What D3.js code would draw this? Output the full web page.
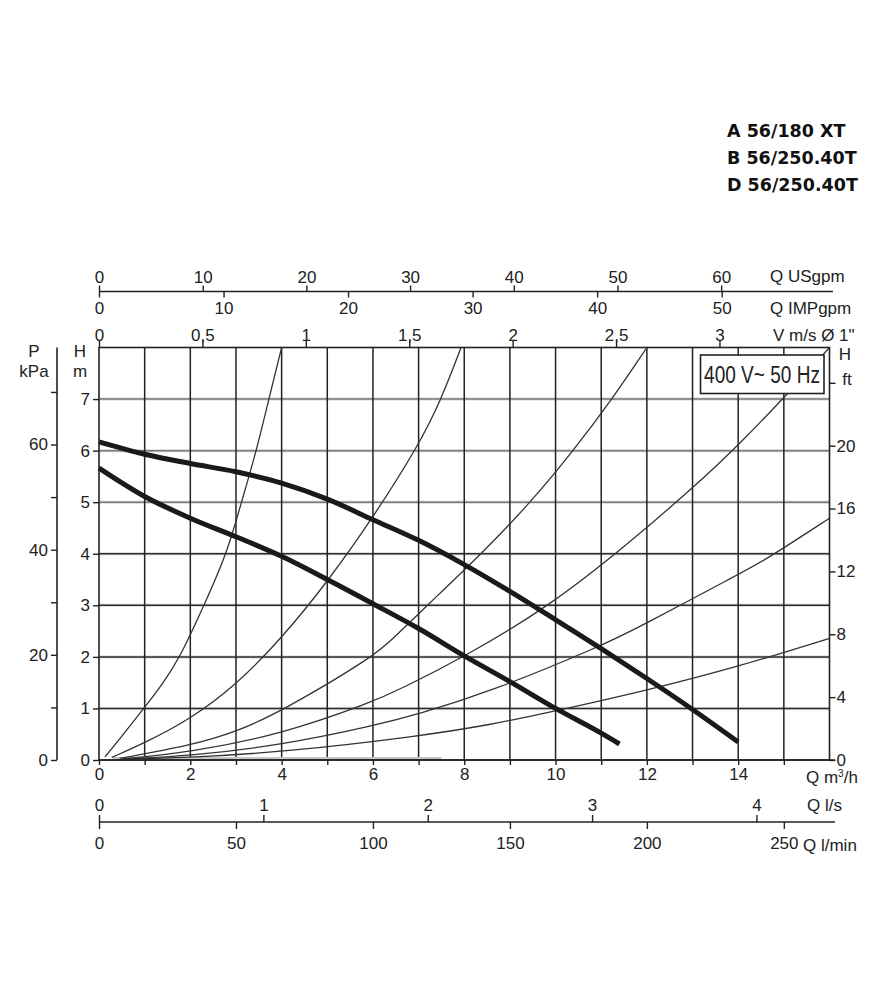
<!DOCTYPE html>
<html>
<head>
<meta charset="utf-8">
<script src="https://cdn.jsdelivr.net/npm/d3@7"></script>
<style>
body { margin: 0; background: #fff; }
</style>
</head>
<body>
<div id="chart"></div>
<script>
var models = ["A 56/180 XT", "B 56/250.40T", "D 56/250.40T"];
var supplyLabel = "400 V~ 50 Hz";

// tick values of every scale
var qTicks = [0,1,2,3,4,5,6,7,8,9,10,11,12,13,14,15,16];
var qLabels = [0,2,4,6,8,10,12,14];
var hTicks = [0,1,2,3,4,5,6,7];
var gridH = [1,2,3,4,5,6,7];
var grayGridH = [5,6,7];
var kpaTicks = [0,10,20,30,40,50,60,70];
var kpaLabels = [0,20,40,60];
var ftTicks = [0,4,8,12,16,20,24];
var ftLabels = [0,4,8,12,16,20];
var usTicks = [0,10,20,30,40,50,60];
var impTicks = [0,10,20,30,40,50];
var velTicks = [0,0.5,1,1.5,2,2.5,3];
var velLabels = ["0","0,5","1","1,5","2","2,5","3"];
var lsTicks = [0,1,2,3,4];
var lminTicks = [0,50,100,150,200,250];

// pump curves (Q m3/h , H m)
var pumpUpperQ = [0,1,2,3,4,5,6,7,8,9,10,11,12,13,14];
var pumpUpperH = [6.17,5.93,5.75,5.59,5.37,5.06,4.66,4.26,3.79,3.27,2.72,2.16,1.58,0.98,0.35];
var pumpLowerQ = [0,1,2,3,4,5,6,7,8,9,10,11,11.4];
var pumpLowerH = [5.66,5.11,4.69,4.33,3.95,3.5,3.03,2.55,2.02,1.52,1.0,0.52,0.31];

// system curves (thin lines)
var sys1Q = [0.13,0.5,0.98,1.4,1.78,2.3,2.8,3.12,3.45,3.72,4.0];
var sys1H = [0.06,0.46,1.0,1.48,2.0,3.0,4.0,5.0,6.0,7.0,8.0];
var sys2Q = [0.28,1,2,3,4,5,6,7,7.5,7.93];
var sys2H = [0.05,0.33,0.79,1.45,2.36,3.45,4.7,6.1,7.0,8.0];
var sys3Q = [0.45,2,3,4.05,6,6.41,7.19,8.38,9.46,10.39,11.24,12];
var sys3H = [0.03,0.28,0.54,0.97,2.0,2.33,3.0,4.0,5.0,6.0,7.0,8.0];
var sys4Q = [0.5,2,4,6,6.59,8,9.9,11.6,13,14,15.06,16];
var sys4H = [0.02,0.15,0.5,1.13,1.37,2.0,3.0,4.2,5.27,6.1,7.08,8.0];
var sys5Q = [0.55,2,4,6,7,8.56,11,11.84,14,14.6,16];
var sys5H = [0.02,0.08,0.29,0.66,0.89,1.32,2.21,2.58,3.6,3.88,4.69];
var sys6Q = [0.6,2,4,7,8.56,10,12,14,16];
var sys6H = [0.02,0.05,0.15,0.46,0.68,0.95,1.35,1.81,2.36];
var flatQ = [0.3,7.5];
var flatH = [0.03,0.03];

var font = "'Liberation Sans', Arial, sans-serif";
var ink = "#222";

var x0 = 99, x1 = 829.5, yb = 760, yt = 347.5;
var x = d3.scaleLinear().domain([0,16]).range([x0,x1]);
var y = d3.scaleLinear().domain([0,8]).range([yb,yt]);
var yKpa = d3.scaleLinear().domain([0,8*9.80665]).range([yb,yt]);
var yFt = d3.scaleLinear().domain([0,8/0.3048]).range([yb,yt]);
var xUs = d3.scaleLinear().domain([0,16/0.227125]).range([x0,x1]);
var xImp = d3.scaleLinear().domain([0,16/0.272765]).range([x0,x1]);
var xVel = d3.scaleLinear().domain([0,16/4.53]).range([x0,x1]);
var xLs = d3.scaleLinear().domain([0,16/3.6]).range([x0,x1]);
var xLmin = d3.scaleLinear().domain([0,16/0.06]).range([x0,x1]);

var svg = d3.select("#chart").append("svg")
    .attr("width", 885)
    .attr("height", 1000);

svg.append("rect").attr("width", 885).attr("height", 1000).attr("fill", "#fff");

// model names top right
svg.selectAll(".model")
    .data(models)
    .enter().append("text")
    .attr("class", "model")
    .attr("x", 727)
    .attr("y", function (d, i) { return 137 + i*27; })
    .attr("font-family", "'DejaVu Sans', sans-serif")
    .attr("font-weight", "bold")
    .attr("font-size", 17.5)
    .attr("fill", "#111")
    .text(function (d) { return d; });

// grid
svg.selectAll(".hhalo")
    .data(gridH)
    .enter().append("line")
    .attr("x1", x0).attr("x2", x1)
    .attr("y1", function (d) { return y(d); })
    .attr("y2", function (d) { return y(d); })
    .attr("stroke", "#e2e2e2")
    .attr("stroke-width", 3.5);
svg.selectAll(".hgrid")
    .data(gridH)
    .enter().append("line")
    .attr("x1", x0).attr("x2", x1)
    .attr("y1", function (d) { return y(d); })
    .attr("y2", function (d) { return y(d); })
    .attr("stroke", function (d) { return grayGridH.indexOf(d) >= 0 ? "#777" : "#2a2a2a"; })
    .attr("stroke-width", 1.5);
svg.selectAll(".vgrid")
    .data(qTicks.slice(1, qTicks.length - 1))
    .enter().append("line")
    .attr("x1", function (d) { return x(d); })
    .attr("x2", function (d) { return x(d); })
    .attr("y1", yb).attr("y2", yt)
    .attr("stroke", ink)
    .attr("stroke-width", 1.5);

// curves
var line = d3.line()
    .x(function (d) { return x(d[0]); })
    .y(function (d) { return y(d[1]); })
    .curve(d3.curveMonotoneX);
var smooth = d3.line()
    .x(function (d) { return x(d[0]); })
    .y(function (d) { return y(d[1]); })
    .curve(d3.curveBasis);

function pts(qs, hs) {
    return qs.map(function (q, i) { return [q, hs[i]]; });
}

svg.append("path")
    .datum(pts(flatQ, flatH))
    .attr("d", line)
    .attr("fill", "none")
    .attr("stroke", "#c4c4c4")
    .attr("stroke-width", 3);

var sysCurves = [pts(sys1Q, sys1H), pts(sys2Q, sys2H), pts(sys3Q, sys3H),
                 pts(sys4Q, sys4H), pts(sys5Q, sys5H), pts(sys6Q, sys6H)];
svg.selectAll(".sys")
    .data(sysCurves)
    .enter().append("path")
    .attr("class", "sys")
    .attr("d", smooth)
    .attr("fill", "none")
    .attr("stroke", "#333")
    .attr("stroke-width", 1.3);

var pumpCurves = [pts(pumpUpperQ, pumpUpperH), pts(pumpLowerQ, pumpLowerH)];
svg.selectAll(".pump")
    .data(pumpCurves)
    .enter().append("path")
    .attr("class", "pump")
    .attr("d", line)
    .attr("fill", "none")
    .attr("stroke", "#1a1a1a")
    .attr("stroke-width", 5);

// frame
svg.append("rect")
    .attr("x", x0).attr("y", yt)
    .attr("width", x1 - x0).attr("height", yb - yt)
    .attr("fill", "none")
    .attr("stroke", ink)
    .attr("stroke-width", 1.6);

function styleAxis(g) {
    g.attr("font-family", font).attr("font-size", 17);
    g.select(".domain").remove();
    g.selectAll(".tick line").attr("stroke", ink).attr("stroke-width", 1.4);
    g.selectAll(".tick text").attr("fill", ink);
    // unlabelled ticks keep only their line
    g.selectAll(".tick text").filter(function () { return this.textContent === ""; }).remove();
}

function hline(xa, xb, yy) {
    svg.append("line")
        .attr("x1", xa).attr("x2", xb)
        .attr("y1", yy).attr("y2", yy)
        .attr("stroke", ink).attr("stroke-width", 1.6);
}

function label(txt, xx, yy, anchor) {
    return svg.append("text")
        .attr("x", xx).attr("y", yy)
        .attr("text-anchor", anchor || "start")
        .attr("font-family", font)
        .attr("font-size", 17)
        .attr("fill", ink)
        .text(txt);
}

// top scales
var yTop = 291.5;
hline(x0, 833, yTop);
svg.append("g")
    .attr("transform", "translate(0," + yTop + ")")
    .call(d3.axisTop(xUs).tickValues(usTicks).tickSize(6).tickPadding(3))
    .call(styleAxis);
svg.append("g")
    .attr("transform", "translate(0," + yTop + ")")
    .call(d3.axisBottom(xImp).tickValues(impTicks).tickSize(6).tickPadding(4))
    .call(styleAxis);
svg.append("g")
    .attr("transform", "translate(0," + yt + ")")
    .call(d3.axisTop(xVel).tickValues(velTicks).tickSize(7).tickPadding(0)
        .tickFormat(function (d, i) { return velLabels[i]; }))
    .call(styleAxis);
label("Q USgpm", 770, 282);
label("Q IMPgpm", 770, 314);
label("V m/s \u00D8 1\"", 773, 341);

// bottom scales
hline(x0, 835, yb);
svg.append("g")
    .attr("transform", "translate(0," + yb + ")")
    .call(d3.axisBottom(x).tickValues(qTicks.slice(0, 16)).tickSize(5).tickPadding(3)
        .tickFormat(function (d) { return qLabels.indexOf(d) >= 0 ? d : ""; }))
    .call(styleAxis);
var qm = label("Q m", 806, 783);
qm.append("tspan").attr("font-size", 10).attr("dy", -6).text("3");
qm.append("tspan").attr("dy", 6).text("/h");

var yLs = 822;
hline(x0, 835, yLs);
svg.append("g")
    .attr("transform", "translate(0," + yLs + ")")
    .call(d3.axisTop(xLs).tickValues(lsTicks).tickSize(7).tickPadding(4)
        .tickFormat(d3.format("d")))
    .call(styleAxis);
svg.append("g")
    .attr("transform", "translate(0," + yLs + ")")
    .call(d3.axisBottom(xLmin).tickValues(lminTicks).tickSize(7).tickPadding(8)
        .tickFormat(d3.format("d")))
    .call(styleAxis);
label("Q l/s", 807, 811);
label("Q l/min", 803, 851);

// left scales
svg.append("g")
    .attr("transform", "translate(" + x0 + ",0)")
    .call(d3.axisLeft(y).tickValues(hTicks).tickSize(6).tickPadding(3))
    .call(styleAxis);
label("H", 80, 357, "middle");
label("m", 80, 377, "middle");

var xP = 57;
svg.append("line")
    .attr("x1", xP).attr("x2", xP)
    .attr("y1", yb).attr("y2", yt)
    .attr("stroke", ink).attr("stroke-width", 1.6);
svg.append("g")
    .attr("transform", "translate(" + xP + ",0)")
    .call(d3.axisLeft(yKpa).tickValues(kpaTicks).tickSize(6).tickPadding(3)
        .tickFormat(function (d) { return kpaLabels.indexOf(d) >= 0 ? d : ""; }))
    .call(styleAxis);
label("P", 34, 357, "middle");
label("kPa", 34, 377, "middle");

// right scale
svg.append("g")
    .attr("transform", "translate(" + x1 + ",0)")
    .call(d3.axisRight(yFt).tickValues(ftTicks).tickSize(6).tickPadding(1)
        .tickFormat(function (d) { return ftLabels.indexOf(d) >= 0 ? d : ""; }))
    .call(styleAxis);
label("H", 845, 360, "middle");
label("ft", 847, 385, "middle");

// supply box, text squeezed to look condensed
svg.append("rect")
    .attr("x", 700.5).attr("y", 355)
    .attr("width", 123.5).attr("height", 38.5)
    .attr("fill", "#fff")
    .attr("stroke", ink)
    .attr("stroke-width", 1.6);
svg.append("text")
    .attr("transform", "translate(762,383) scale(0.81,1)")
    .attr("text-anchor", "middle")
    .attr("font-family", font)
    .attr("font-size", 23.5)
    .attr("fill", ink)
    .text(supplyLabel);
</script>
</body>
</html>
